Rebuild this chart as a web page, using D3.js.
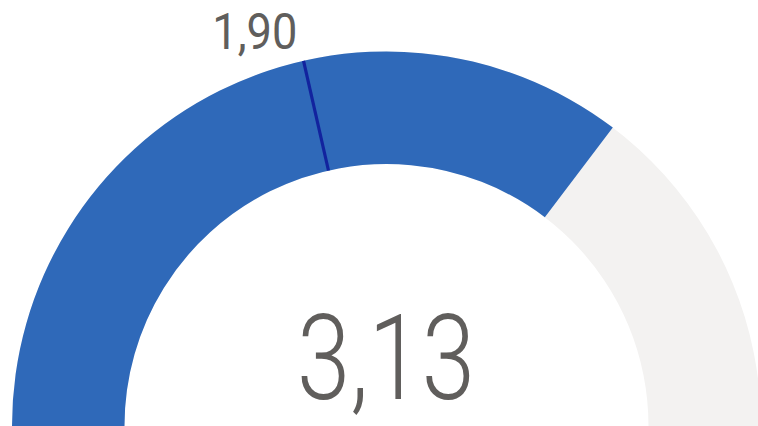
<!DOCTYPE html>
<html>
<head>
<meta charset="utf-8">
<script src="https://cdn.jsdelivr.net/npm/d3@7"></script>
<style>
  html, body { margin: 0; padding: 0; background: #fff; overflow: hidden; }
  svg { display: block; }
</style>
</head>
<body>
<div id="content"></div>
<script>
const width = 758;
const height = 426;

// gauge data
const gaugeRange = [0, 4.43];
const gaugeValue = [3.13];
const gaugeTarget = [1.90];

const blue = '#2F69B9';
const track = '#F3F2F1';
const navy = '#12239E';
const textGrey = '#605E5C';

const cx = 386.5;
const cy = 426;
const outerR = 374.5;
const innerR = 262;

const fmt = d3.formatLocale({ decimal: ',', thousands: '.', grouping: [3], currency: ['', ''] }).format('.2f');

const svg = d3.select('#content')
  .append('svg')
  .attr('width', width)
  .attr('height', height);

const g = svg.append('g')
  .attr('transform', `translate(${cx},${cy})`);

const angle = d3.scaleLinear()
  .domain(gaugeRange)
  .range([-Math.PI / 2, Math.PI / 2]);

const arc = d3.arc()
  .innerRadius(innerR)
  .outerRadius(outerR);

// background track
g.append('path')
  .attr('d', arc({ startAngle: angle(gaugeRange[0]), endAngle: angle(gaugeRange[1]) }))
  .attr('fill', track);

// value arc
g.selectAll('path.value')
  .data(gaugeValue)
  .enter()
  .append('path')
  .classed('value', true)
  .attr('d', d => arc({ startAngle: angle(gaugeRange[0]), endAngle: angle(d) }))
  .attr('fill', blue);

// target line
g.selectAll('line.target')
  .data(gaugeTarget)
  .enter()
  .append('line')
  .classed('target', true)
  .attr('x1', d => innerR * Math.sin(angle(d)))
  .attr('y1', d => -innerR * Math.cos(angle(d)))
  .attr('x2', d => outerR * Math.sin(angle(d)))
  .attr('y2', d => -outerR * Math.cos(angle(d)))
  .attr('stroke', navy)
  .attr('stroke-width', 3.2);

// target label
svg.selectAll('text.target-label')
  .data(gaugeTarget)
  .enter()
  .append('text')
  .classed('target-label', true)
  .attr('x', d => cx + (outerR + 10) * Math.sin(angle(d)) - 4)
  .attr('y', 49)
  .attr('text-anchor', 'end')
  .attr('font-family', 'Roboto, sans-serif')
  .attr('font-size', 50)
  .attr('fill', textGrey)
  .attr('textLength', 85)
  .attr('lengthAdjust', 'spacingAndGlyphs')
  .text(d => fmt(d));

// main value
svg.selectAll('text.value-label')
  .data(gaugeValue)
  .enter()
  .append('text')
  .classed('value-label', true)
  .attr('x', 297)
  .attr('y', 399)
  .attr('font-family', 'Roboto, sans-serif')
  .attr('font-weight', 300)
  .attr('font-size', 119)
  .attr('fill', textGrey)
  .attr('textLength', 178)
  .attr('lengthAdjust', 'spacingAndGlyphs')
  .text(d => fmt(d));
</script>
</body>
</html>
